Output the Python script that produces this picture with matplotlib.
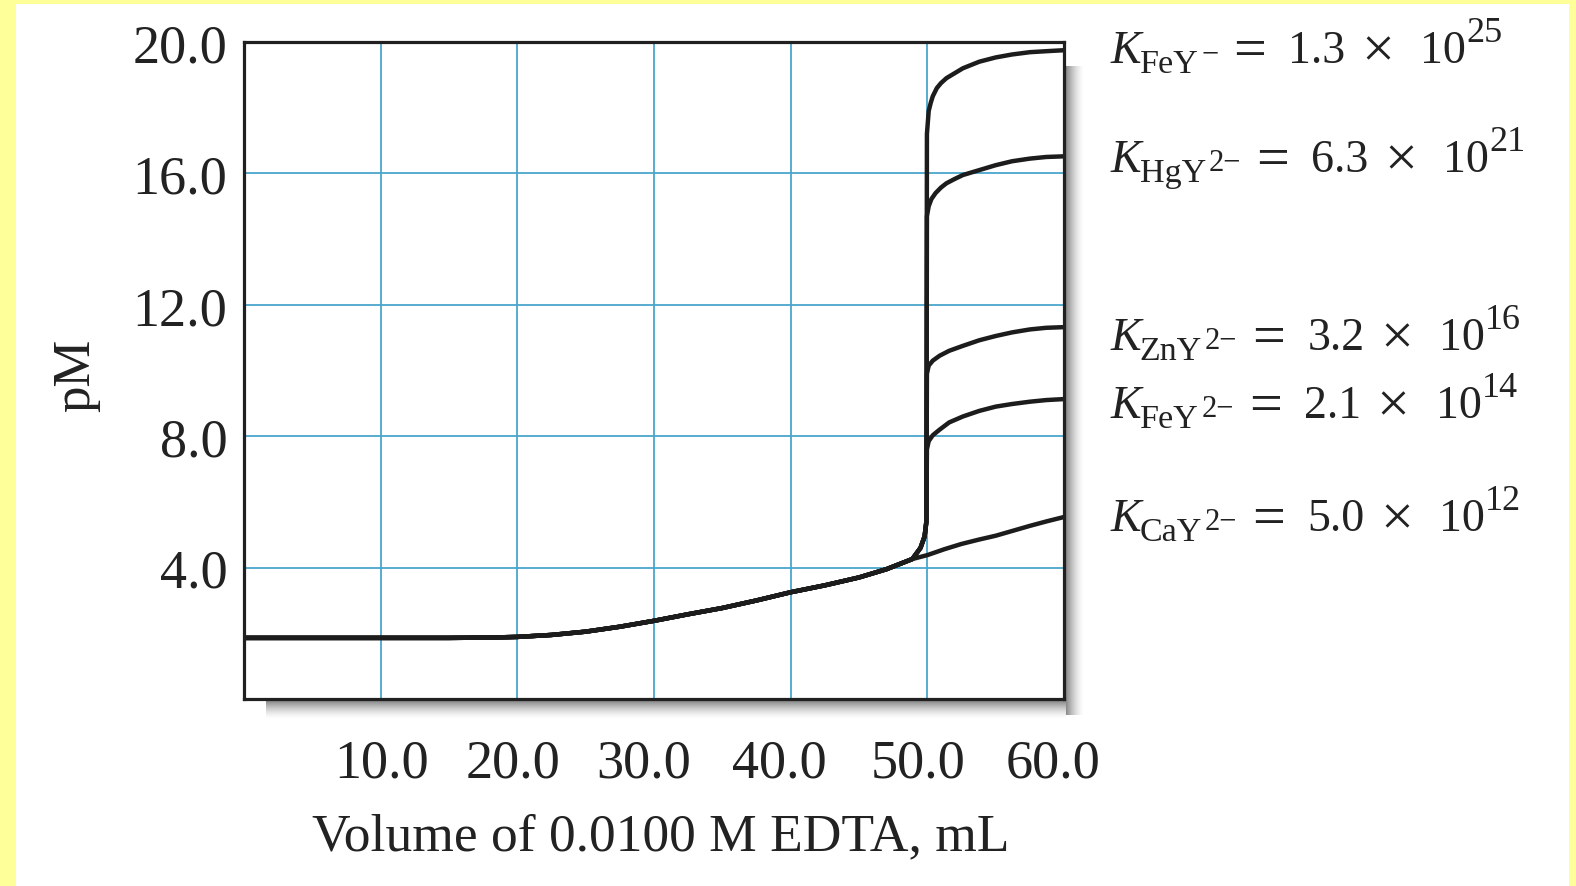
import matplotlib
matplotlib.use("Agg")
import matplotlib.pyplot as plt
import matplotlib.transforms as mtransforms
from matplotlib.patches import Rectangle

# ---------------- data ----------------
vol_common = [0, 5, 10, 15, 18, 20, 22.5, 25, 27.5, 30, 32.5, 35, 37.5, 40, 42.5, 45, 47, 48.9]
pm_common = [1.86, 1.86, 1.86, 1.86, 1.87, 1.89, 1.95, 2.05, 2.2, 2.38, 2.58, 2.77, 3.0, 3.25, 3.46, 3.7, 3.95, 4.26]

vol_rise = [49.5, 49.8, 49.93]
pm_rise = [4.6, 4.95, 5.4]

vol_fey = [49.97, 50.1, 50.25, 50.4, 50.7, 51.0, 51.4, 52.0, 52.6, 53.8, 55.0, 56.2, 57.5, 58.7, 60.0]
pm_fey = [17.2, 17.9, 18.15, 18.35, 18.6, 18.75, 18.9, 19.05, 19.2, 19.4, 19.53, 19.62, 19.69, 19.72, 19.75]

vol_hgy = [49.97, 50.1, 50.3, 50.6, 51.0, 51.4, 52.0, 52.6, 53.8, 55.0, 56.2, 57.5, 58.7, 60.0]
pm_hgy = [14.7, 15.0, 15.22, 15.4, 15.57, 15.7, 15.83, 15.95, 16.1, 16.25, 16.37, 16.45, 16.5, 16.52]

vol_zny = [49.97, 50.1, 50.4, 50.9, 51.6, 52.6, 53.8, 55.0, 56.2, 57.5, 58.7, 60.0]
pm_zny = [9.9, 10.15, 10.3, 10.45, 10.6, 10.75, 10.92, 11.05, 11.16, 11.25, 11.3, 11.32]

vol_fey2 = [49.97, 50.1, 50.4, 50.9, 51.6, 52.6, 53.8, 55.0, 56.2, 57.5, 58.7, 60.0]
pm_fey2 = [7.6, 7.85, 8.03, 8.2, 8.42, 8.6, 8.77, 8.9, 8.98, 9.05, 9.1, 9.13]

vol_cay = [50.0, 51.25, 52.5, 53.75, 55.0, 56.25, 57.5, 58.75, 60.0]
pm_cay = [4.38, 4.56, 4.72, 4.85, 4.97, 5.12, 5.27, 5.41, 5.54]

complex_names = ["FeY", "HgY", "ZnY", "FeY", "CaY"]
complex_charges = ["\u2212", "2\u2212", "2\u2212", "2\u2212", "2\u2212"]
k_mantissa = ["1.3", "6.3", "3.2", "2.1", "5.0"]
k_exponent = ["25", "21", "16", "14", "12"]
label_baseline_pm = [19.39, 16.07, 10.65, 8.58, 5.14]

x_ticks = [10, 20, 30, 40, 50, 60]
x_tick_labels = ["10.0", "20.0", "30.0", "40.0", "50.0", "60.0"]
x_tick_shift_px = [1, -4, -10, -11, -9, -11]
y_ticks = [4, 8, 12, 16, 20]
y_tick_labels = ["4.0", "8.0", "12.0", "16.0", "20.0"]
x_label = "Volume of 0.0100 M EDTA, mL"
y_label = "pM"

# ---------------- style ----------------
plt.rcParams["font.family"] = ["Liberation Serif", "DejaVu Serif"]
TEXT = "#222222"

W, H = 1576, 887
fig = plt.figure(figsize=(W / 100, H / 100), dpi=100, facecolor="#ffff99")
fig.add_artist(Rectangle((16 / W, 0), (1569 - 16) / W, (H - 5) / H,
                         transform=fig.transFigure, facecolor="white",
                         edgecolor="none", zorder=-10))

ax_l, ax_r, ax_t, ax_b = 244, 1064, 43, 700
ax = fig.add_axes([ax_l / W, (H - ax_b) / H, (ax_r - ax_l) / W, (ax_b - ax_t) / H])

# drop shadow (right and bottom of the plot frame)
n = 18
for k in range(n):
    a = 0.45 * (1 - k / n) ** 1.6
    fig.add_artist(Rectangle(((ax_r + 2 + k) / W, (H - ax_b - 16) / H), 1 / W,
                             (ax_b + 16 - 67) / H, transform=fig.transFigure,
                             facecolor="black", alpha=a, edgecolor="none", zorder=-5))
    fig.add_artist(Rectangle(((ax_l + 22) / W, (H - ax_b - 2 - k - 1) / H),
                             (ax_r - ax_l - 22 + 2) / W, 1 / H, transform=fig.transFigure,
                             facecolor="black", alpha=a, edgecolor="none", zorder=-5))

ax.set_xlim(0, 60)
ax.set_ylim(0, 20)
ax.set_xticks(x_ticks)
ax.set_xticklabels(x_tick_labels)
ax.set_yticks(y_ticks)
ax.set_yticklabels(y_tick_labels)
ax.tick_params(axis="both", length=0, labelsize=39, colors=TEXT)
ax.tick_params(axis="x", pad=28)
ax.tick_params(axis="y", pad=12)
ax.grid(True, color="#4aa6cc", linewidth=1.3)
ax.set_axisbelow(True)
for s in ax.spines.values():
    s.set_linewidth(2.3)
    s.set_color("#202020")

for lab, sh in zip(ax.get_xticklabels(), x_tick_shift_px):
    off = mtransforms.ScaledTranslation(sh / 100, 0, fig.dpi_scale_trans)
    lab.set_transform(lab.get_transform() + off)

line_kw = dict(color="#1c1c1c", linewidth=3.2, solid_joinstyle="round", solid_capstyle="butt")
ax.plot(vol_common + vol_cay, pm_common + pm_cay, **line_kw)
for v, p in [(vol_fey, pm_fey), (vol_hgy, pm_hgy), (vol_zny, pm_zny), (vol_fey2, pm_fey2)]:
    ax.plot(vol_common + vol_rise + v, pm_common + pm_rise + p, **line_kw)

ax.set_xlabel(x_label, fontsize=38.5, color=TEXT)
ax.xaxis.label.set_verticalalignment("baseline")
ax.xaxis.set_label_coords(0.508, (ax_b - 850) / (ax_b - ax_t))
ax.set_ylabel(y_label, fontsize=38, color=TEXT)
ax.yaxis.set_label_coords(-0.1756, 0.494)

# ---------------- stability-constant labels (typeset piece by piece) ----------------
renderer = fig.canvas.get_renderer()
blend = mtransforms.blended_transform_factory(ax.transAxes, ax.transData)
MAIN, SUB, CHG, SUP, OP = 33, 24.5, 22, 26, 42


def put(x_px, y_val, dy_px, s, size, style="normal"):
    tr = blend + mtransforms.ScaledTranslation(0, dy_px / 100, fig.dpi_scale_trans)
    t = ax.text((x_px - ax_l) / (ax_r - ax_l), y_val, s, transform=tr, ha="left",
                va="baseline", fontsize=size, style=style, color=TEXT, clip_on=False)
    return x_px + t.get_window_extent(renderer).width


for name, chg, m, e, yv in zip(complex_names, complex_charges, k_mantissa, k_exponent,
                               label_baseline_pm):
    x = put(1111, yv, 0, "K", MAIN, "italic")
    x = put(x - 2, yv, -10, name, SUB)
    x = put(x + 3, yv, 1, chg, CHG)
    x = put(x + 15, yv, -4, "=", OP)
    x = put(x + 22, yv, 0, m, MAIN)
    x = put(x + 16, yv, -4, "\u00d7", OP)
    x = put(x + 26, yv, 0, "10", MAIN)
    put(x + 0, yv, 21, e, SUP)

fig.savefig("out.png", dpi=100, facecolor=fig.get_facecolor())
